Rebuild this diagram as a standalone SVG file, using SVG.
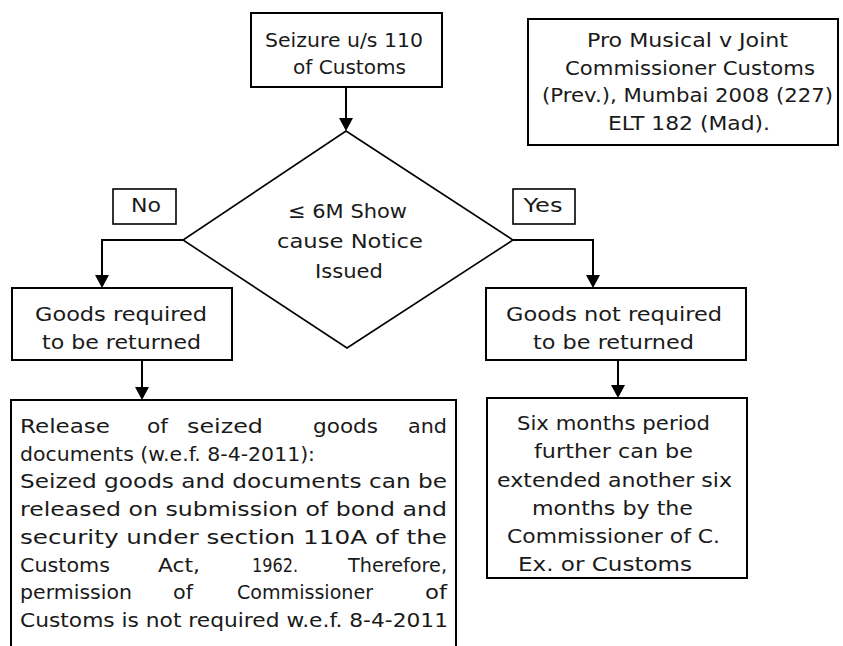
<svg xmlns="http://www.w3.org/2000/svg" width="843" height="646" viewBox="0 0 843 646">
<style>
  .box { fill: #ffffff; stroke: #000000; stroke-width: 2; }
  .dia { fill: #ffffff; stroke: #000000; stroke-width: 1.6; }
  .conn { fill: none; stroke: #000000; stroke-width: 2; }
  text { font-family: "DejaVu Sans", "Liberation Sans", sans-serif; font-size: 20px; fill: #1a1a1a; }
  .c { text-anchor: middle; }
  .e { text-anchor: end; }
</style>
<defs>
  <marker id="arr" viewBox="0 0 13 14" refX="9" refY="7" markerWidth="13" markerHeight="14" markerUnits="userSpaceOnUse" orient="auto">
    <path d="M0,0 L13,7 L0,14 z" fill="#000000"/>
  </marker>
</defs>
<rect width="843" height="646" fill="#ffffff"/>

<g id="connectors">
  <path class="conn" d="M346,87 L346,127" marker-end="url(#arr)"/>
  <path class="conn" d="M183,240 L102,240 L102,284" marker-end="url(#arr)"/>
  <path class="conn" d="M513,240 L593,240 L593,284" marker-end="url(#arr)"/>
  <path class="conn" d="M142,361 L142,396" marker-end="url(#arr)"/>
  <path class="conn" d="M618,361 L618,394" marker-end="url(#arr)"/>
</g>

<g id="seizure">
  <rect class="box" x="251" y="13" width="191" height="74"/>
  <text class="c" x="344" y="47" textLength="158" lengthAdjust="spacingAndGlyphs">Seizure u/s 110</text>
  <text class="c" x="349.5" y="74" textLength="113" lengthAdjust="spacingAndGlyphs">of Customs</text>
</g>

<g id="case-note">
  <rect class="box" x="528" y="19" width="310" height="126"/>
  <text class="c" x="687.5" y="47" textLength="201" lengthAdjust="spacingAndGlyphs">Pro Musical v Joint</text>
  <text class="c" x="690" y="74.5" textLength="250" lengthAdjust="spacingAndGlyphs">Commissioner Customs</text>
  <text class="c" x="687.5" y="102" textLength="291" lengthAdjust="spacingAndGlyphs">(Prev.), Mumbai 2008 (227)</text>
  <text class="c" x="689" y="129.5" textLength="162" lengthAdjust="spacingAndGlyphs">ELT 182 (Mad).</text>
</g>

<g id="decision">
  <polygon class="dia" points="346,131 513,240 347,348 183,240"/>
  <text class="c" x="347.5" y="218" textLength="119" lengthAdjust="spacingAndGlyphs">≤ 6M Show</text>
  <text class="c" x="350" y="248" textLength="146" lengthAdjust="spacingAndGlyphs">cause Notice</text>
  <text class="c" x="349" y="278" textLength="68" lengthAdjust="spacingAndGlyphs">Issued</text>
</g>

<g id="label-no">
  <rect class="box" x="113" y="189" width="63" height="35" style="stroke-width:1.6"/>
  <text class="c" x="146" y="212" textLength="30" lengthAdjust="spacingAndGlyphs">No</text>
</g>

<g id="label-yes">
  <rect class="box" x="513" y="189" width="62" height="35" style="stroke-width:1.6"/>
  <text class="c" x="543" y="212" textLength="39" lengthAdjust="spacingAndGlyphs">Yes</text>
</g>

<g id="goods-required">
  <rect class="box" x="12" y="288" width="220" height="72"/>
  <text class="c" x="121" y="321" textLength="172" lengthAdjust="spacingAndGlyphs">Goods required</text>
  <text class="c" x="121.5" y="349" textLength="159" lengthAdjust="spacingAndGlyphs">to be returned</text>
</g>

<g id="goods-not-required">
  <rect class="box" x="486" y="288" width="260" height="72"/>
  <text class="c" x="614" y="321" textLength="216" lengthAdjust="spacingAndGlyphs">Goods not required</text>
  <text class="c" x="613.5" y="349" textLength="161" lengthAdjust="spacingAndGlyphs">to be returned</text>
</g>

<g id="release">
  <rect class="box" x="11" y="400" width="445" height="270"/>
  <text x="20" y="433" textLength="90" lengthAdjust="spacingAndGlyphs">Release</text>
  <text x="147" y="433" textLength="21" lengthAdjust="spacingAndGlyphs">of</text>
  <text x="187" y="433" textLength="76" lengthAdjust="spacingAndGlyphs">seized</text>
  <text x="313" y="433" textLength="65" lengthAdjust="spacingAndGlyphs">goods</text>
  <text x="408" y="433" textLength="39" lengthAdjust="spacingAndGlyphs">and</text>
  <text x="20" y="460.7" textLength="295" lengthAdjust="spacingAndGlyphs">documents (w.e.f. 8-4-2011):</text>
  <text x="20" y="488.4" textLength="427" lengthAdjust="spacingAndGlyphs">Seized goods and documents can be</text>
  <text x="20" y="516.1" textLength="427" lengthAdjust="spacingAndGlyphs">released on submission of bond and</text>
  <text x="20" y="543.8" textLength="427" lengthAdjust="spacingAndGlyphs">security under section 110A of the</text>
  <text x="20" y="571.5" textLength="90" lengthAdjust="spacingAndGlyphs">Customs</text>
  <text x="158" y="571.5" textLength="42" lengthAdjust="spacingAndGlyphs">Act,</text>
  <text x="252" y="571.5" textLength="46" lengthAdjust="spacingAndGlyphs">1962.</text>
  <text x="348" y="571.5" textLength="99" lengthAdjust="spacingAndGlyphs">Therefore,</text>
  <text x="20" y="599.2" textLength="112" lengthAdjust="spacingAndGlyphs">permission</text>
  <text x="173" y="599.2" textLength="20" lengthAdjust="spacingAndGlyphs">of</text>
  <text x="237" y="599.2" textLength="136" lengthAdjust="spacingAndGlyphs">Commissioner</text>
  <text x="425" y="599.2" textLength="22" lengthAdjust="spacingAndGlyphs">of</text>
  <text x="20" y="627" textLength="428" lengthAdjust="spacingAndGlyphs">Customs is not required w.e.f. 8-4-2011</text>
</g>

<g id="six-months">
  <rect class="box" x="487" y="398" width="260" height="180"/>
  <text class="c" x="613.5" y="430" textLength="193" lengthAdjust="spacingAndGlyphs">Six months period</text>
  <text class="c" x="613.5" y="458" textLength="159" lengthAdjust="spacingAndGlyphs">further can be</text>
  <text class="c" x="614.5" y="487" textLength="235" lengthAdjust="spacingAndGlyphs">extended another six</text>
  <text class="c" x="612.5" y="515" textLength="161" lengthAdjust="spacingAndGlyphs">months by the</text>
  <text class="c" x="613.5" y="543" textLength="213" lengthAdjust="spacingAndGlyphs">Commissioner of C.</text>
  <text class="c" x="605" y="571" textLength="174" lengthAdjust="spacingAndGlyphs">Ex. or Customs</text>
</g>
</svg>
